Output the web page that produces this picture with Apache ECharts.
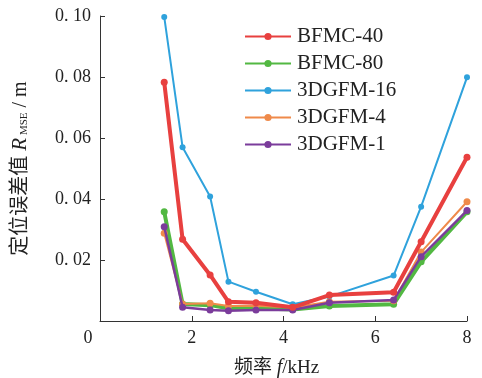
<!DOCTYPE html>
<html><head><meta charset="utf-8">
<script src="https://cdn.jsdelivr.net/npm/echarts@6/dist/echarts.min.js"></script>
<style>html,body{margin:0;padding:0;background:#fff}#c{width:482px;height:378px}</style>
</head><body><div id="c"></div>
<script>
const freq = [1.4, 1.8, 2.4, 2.8, 3.4, 4.2, 5.0, 6.4, 7.0, 8.0];
const bfmc40  = [0.0783, 0.0268, 0.0151, 0.0063, 0.0060, 0.0045, 0.0085, 0.0094, 0.0260, 0.0537];
const bfmc80  = [0.0358, 0.0056, 0.0052, 0.0042, 0.0042, 0.0038, 0.0049, 0.0055, 0.0194, 0.0358];
const gfm16   = [0.0997, 0.0570, 0.0408, 0.0129, 0.0096, 0.0055, 0.0080, 0.0149, 0.0375, 0.0799];
const gfm4    = [0.0288, 0.0056, 0.0058, 0.0049, 0.0050, 0.0044, 0.0063, 0.0066, 0.0226, 0.0391];
const gfm1    = [0.0309, 0.0045, 0.0036, 0.0034, 0.0036, 0.0036, 0.0060, 0.0069, 0.0211, 0.0362];
const seriesNames = ['BFMC-40', 'BFMC-80', '3DGFM-16', '3DGFM-4', '3DGFM-1'];
const xTickValues = [0, 2, 4, 6, 8];
const xTickLabels = ['0', '2', '4', '6', '8'];
const yTickValues = [0.02, 0.04, 0.06, 0.08, 0.10];
const yTickLabels = ['0. 02', '0. 04', '0. 06', '0. 08', '0. 10'];

const serif = '"Liberation Serif", "DejaVu Serif", "Noto Sans CJK SC", serif';
const cjk = '"Liberation Serif", "Noto Sans CJK SC", serif';
function pairs(ys){ return freq.map((x,i)=>[x, ys[i]]); }
function lookup(vals, labels, v){
  for (let i=0;i<vals.length;i++) if (Math.abs(vals[i]-v)<1e-9) return labels[i];
  return '';
}
const chart = echarts.init(document.getElementById('c'), null, {renderer:'canvas'});
const mk = (name, data, color, width, sym, z) => ({
  name, type:'line', data: pairs(data), symbol:'circle', symbolSize: sym,
  lineStyle:{color, width}, itemStyle:{color}, z, animation:false
});
chart.setOption({
  animation:false,
  grid:{left:100, right:15, top:16, bottom:57, containLabel:false, outerBoundsMode:'none'},
  legend:{
    left:239, top:18, orient:'vertical', itemWidth:46, itemHeight:9, itemGap:0,
    textStyle:{fontFamily:serif, fontSize:21, color:'#222', lineHeight:27, padding:[0,0,0,1]},
    data: seriesNames
  },
  xAxis:{
    type:'value', min:0, max:8, interval:2,
    axisLine:{lineStyle:{color:'#333', width:1}},
    axisTick:{inside:true, length:5, lineStyle:{color:'#333'}},
    splitLine:{show:false},
    axisLabel:{fontFamily:serif, fontSize:18, color:'#222', margin:8,
      formatter:v=> v===0 ? '{z|0}' : lookup(xTickValues, xTickLabels, v),
      rich:{z:{fontFamily:serif, fontSize:18, color:'#222', padding:[0,24,0,0]}}},
    name:'{c|频率 }{i|f}{c|/kHz}', nameLocation:'middle', nameGap:37,
    nameTextStyle:{padding:[0,14,0,0], rich:{
      c:{fontFamily:cjk, fontSize:19, color:'#222'},
      i:{fontFamily:serif, fontSize:20, fontStyle:'italic', color:'#222'}}}
  },
  yAxis:{
    type:'value', min:0, max:0.1, interval:0.02,
    axisLine:{show:true, lineStyle:{color:'#333', width:1}},
    axisTick:{show:true, inside:true, length:5, lineStyle:{color:'#333'}},
    splitLine:{show:false},
    axisLabel:{fontFamily:serif, fontSize:18, color:'#222', margin:9,
      formatter:v=> lookup(yTickValues, yTickLabels, v)},
    name:'{c|定位误差值 }{i|R}{s| MSE}{c| / m}', nameLocation:'middle', nameGap:69, nameRotate:90,
    nameTextStyle:{rich:{
      c:{fontFamily:cjk, fontSize:20, color:'#222'},
      i:{fontFamily:serif, fontSize:21, fontStyle:'italic', color:'#222'},
      s:{fontFamily:serif, fontSize:11, color:'#222', padding:[8,0,0,0]}}}
  },
  series:[
    mk(seriesNames[2], gfm16, '#2fa2dc', 2, 6, 2),
    mk(seriesNames[1], bfmc80, '#52b842', 4, 7, 3),
    mk(seriesNames[3], gfm4, '#ef8a4a', 2, 7, 4),
    mk(seriesNames[4], gfm1, '#7b3c9b', 2.5, 7, 5),
    mk(seriesNames[0], bfmc40, '#e8403f', 4, 7, 6)
  ]
});
</script></body></html>
